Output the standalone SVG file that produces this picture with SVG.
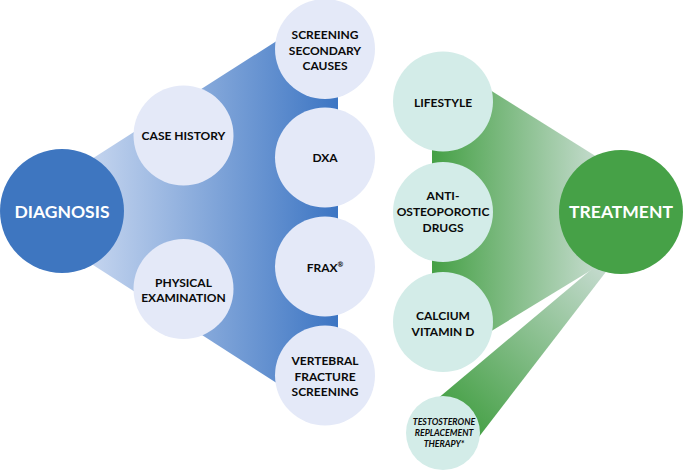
<svg xmlns="http://www.w3.org/2000/svg" width="685" height="470" viewBox="0 0 685 470">
<defs>
<linearGradient id="gBlue" gradientUnits="userSpaceOnUse" x1="95" y1="0" x2="338" y2="0">
<stop offset="0" stop-color="#c2d3ee"/>
<stop offset="1" stop-color="#3c75c3"/>
</linearGradient>
<linearGradient id="gGreen" gradientUnits="userSpaceOnUse" x1="432" y1="0" x2="600" y2="0">
<stop offset="0" stop-color="#45a045"/>
<stop offset="1" stop-color="#c6dccf"/>
</linearGradient>
<linearGradient id="gBand" gradientUnits="userSpaceOnUse" x1="455" y1="420" x2="605" y2="262">
<stop offset="0" stop-color="#45a045"/>
<stop offset="1" stop-color="#c8dcd2"/>
</linearGradient>
<style>
.lb{fill:#e4e9f8}
.lg{fill:#d3ece8}
.t{font-family:Lato,"Liberation Sans",sans-serif;font-weight:bold;font-size:12px;fill:#0a0a0a;text-anchor:middle}
.big{font-family:Lato,"Liberation Sans",sans-serif;font-weight:bold;font-size:17.5px;fill:#fff;text-anchor:middle}
.it{font-family:Lato,"Liberation Sans",sans-serif;font-weight:bold;font-style:italic;font-size:8.8px;fill:#0a0a0a;text-anchor:middle}
</style>
</defs>
<rect width="685" height="470" fill="#fff"/>
<g id="connectors">
<polygon points="62,178 300,26 338,26 338,398 300,398 62,245" fill="url(#gBlue)"/>
<polygon points="432,101 470,77.5 621,172 621,252 470,344 432,322" fill="url(#gGreen)"/>
<polygon points="436,400 605,258 612,264 475,442" fill="url(#gBand)"/>
</g>
<g id="diagnosis"><circle cx="62" cy="211" r="62" fill="#3e76c0"/><text class="big" x="62" y="218">DIAGNOSIS</text></g>
<g id="case-history"><circle class="lb" cx="183.5" cy="135.5" r="50"/><text class="t" x="183.5" y="140">CASE HISTORY</text></g>
<g id="physical-examination"><circle class="lb" cx="183.5" cy="289" r="50"/><text class="t" x="183.5" y="286.5">PHYSICAL</text><text class="t" x="183.5" y="302">EXAMINATION</text></g>
<g id="screening"><circle class="lb" cx="325" cy="49" r="50"/><text class="t" x="325" y="39">SCREENING</text><text class="t" x="325" y="54.5">SECONDARY</text><text class="t" x="325" y="70">CAUSES</text></g>
<g id="dxa"><circle class="lb" cx="325" cy="157.5" r="50"/><text class="t" x="325" y="162">DXA</text></g>
<g id="frax"><circle class="lb" cx="325" cy="266.5" r="50"/><text class="t" x="325" y="271.5">FRAX<tspan font-size="7" dy="-5">®</tspan></text></g>
<g id="vertebral"><circle class="lb" cx="325" cy="375.5" r="50"/><text class="t" x="325" y="365">VERTEBRAL</text><text class="t" x="325" y="380.5">FRACTURE</text><text class="t" x="325" y="396">SCREENING</text></g>
<g id="lifestyle"><circle class="lg" cx="443" cy="101.5" r="50"/><text class="t" x="443" y="106.5">LIFESTYLE</text></g>
<g id="anti-osteoporotic"><circle class="lg" cx="443" cy="212" r="50"/><text class="t" x="443" y="200">ANTI-</text><text class="t" x="443" y="216">OSTEOPOROTIC</text><text class="t" x="443" y="231.5">DRUGS</text></g>
<g id="calcium"><circle class="lg" cx="443" cy="322" r="50"/><text class="t" x="443" y="320">CALCIUM</text><text class="t" x="443" y="335.5">VITAMIN D</text></g>
<g id="testosterone"><circle class="lg" cx="443" cy="433" r="37"/><text class="it" x="444" y="424.5">TESTOSTERONE</text><text class="it" x="444" y="435.5">REPLACEMENT</text><text class="it" x="444" y="446.5">THERAPY*</text></g>
<g id="treatment"><circle cx="621" cy="212" r="62" fill="#46a147"/><text class="big" x="621" y="218">TREATMENT</text></g>
</svg>
